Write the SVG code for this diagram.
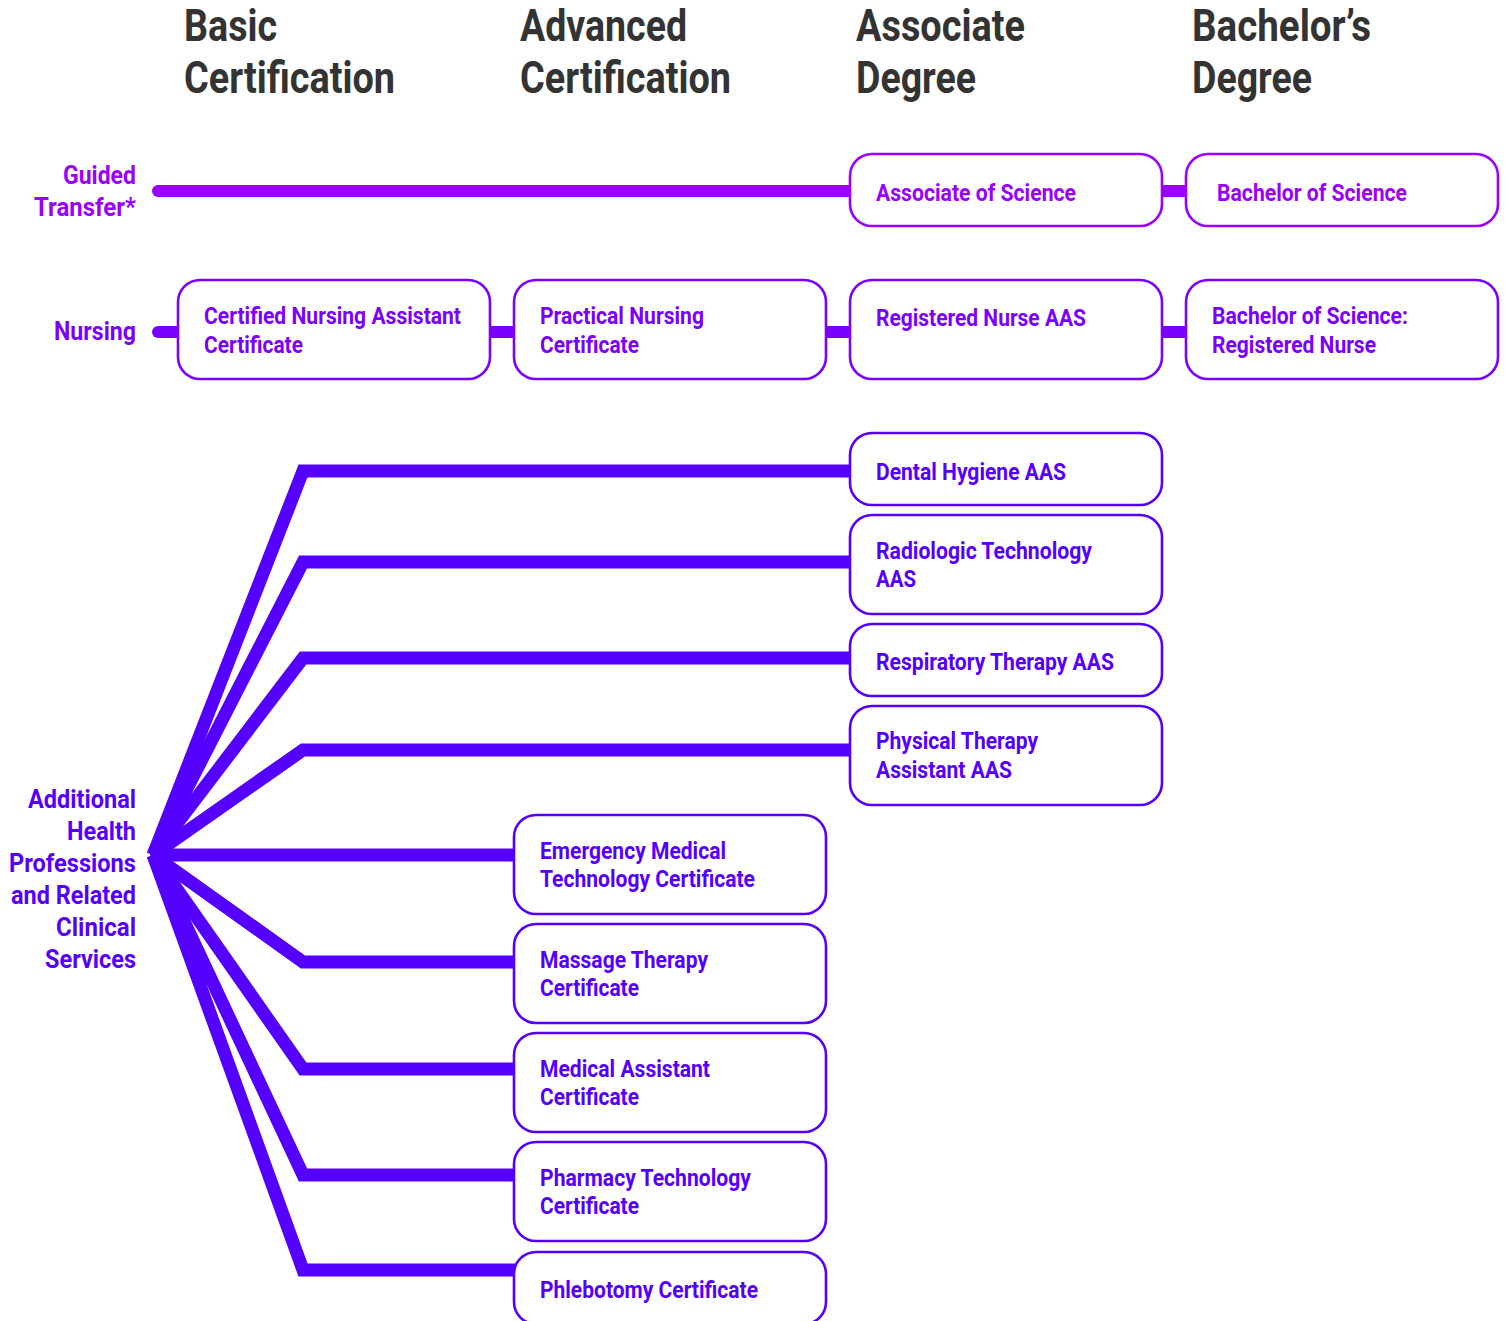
<svg xmlns="http://www.w3.org/2000/svg" width="1506" height="1321" viewBox="0 0 1506 1321">
<style>
text{font-family:Roboto,"Liberation Sans",sans-serif;font-weight:700}
.hd{font-size:44px;fill:#333333}
.lab{font-size:25px;text-anchor:end}
.bt{font-size:23px}
.g{fill:#9900ff}
.n{fill:#7a00ff}
.f{fill:#5500ff}
.box{fill:#ffffff;stroke-width:2.6}
.bg{stroke:#9900ff}
.bn{stroke:#7a00ff}
.bf{stroke:#5500ff}
.cg{stroke:#9900ff;stroke-width:12;fill:none}
.cn{stroke:#7a00ff;stroke-width:12;fill:none}
.cf{stroke:#5500ff;stroke-width:13;fill:none;stroke-linejoin:miter}
</style>
<g id="headers">
<text class="hd" x="184" y="41" textLength="93" lengthAdjust="spacingAndGlyphs">Basic</text>
<text class="hd" x="184" y="93" textLength="211" lengthAdjust="spacingAndGlyphs">Certification</text>
<text class="hd" x="520" y="41" textLength="167" lengthAdjust="spacingAndGlyphs">Advanced</text>
<text class="hd" x="520" y="93" textLength="211" lengthAdjust="spacingAndGlyphs">Certification</text>
<text class="hd" x="856" y="41" textLength="169" lengthAdjust="spacingAndGlyphs">Associate</text>
<text class="hd" x="856" y="93" textLength="120" lengthAdjust="spacingAndGlyphs">Degree</text>
<text class="hd" x="1192" y="41" textLength="179" lengthAdjust="spacingAndGlyphs">Bachelor’s</text>
<text class="hd" x="1192" y="93" textLength="120" lengthAdjust="spacingAndGlyphs">Degree</text>
</g>
<g id="row-labels">
<text class="lab g" x="136" y="184" textLength="73" lengthAdjust="spacingAndGlyphs">Guided</text>
<text class="lab g" x="136" y="216" textLength="102" lengthAdjust="spacingAndGlyphs">Transfer*</text>
<text class="lab n" x="136" y="340" textLength="82" lengthAdjust="spacingAndGlyphs">Nursing</text>
<text class="lab f" x="136" y="808" textLength="108" lengthAdjust="spacingAndGlyphs">Additional</text>
<text class="lab f" x="136" y="840" textLength="69" lengthAdjust="spacingAndGlyphs">Health</text>
<text class="lab f" x="136" y="872" textLength="127" lengthAdjust="spacingAndGlyphs">Professions</text>
<text class="lab f" x="136" y="904" textLength="125" lengthAdjust="spacingAndGlyphs">and Related</text>
<text class="lab f" x="136" y="936" textLength="80" lengthAdjust="spacingAndGlyphs">Clinical</text>
<text class="lab f" x="136" y="968" textLength="91" lengthAdjust="spacingAndGlyphs">Services</text>
</g>
<g id="connectors">
<path class="cg" d="M158 191 H852" stroke-linecap="round"/>
<path class="cg" d="M1160 191 H1188"/>
<path class="cn" d="M158 332 H180" stroke-linecap="round"/>
<path class="cn" d="M488 332 H516"/>
<path class="cn" d="M824 332 H852"/>
<path class="cn" d="M1160 332 H1188"/>
<path class="cf" d="M153 855 L303 471 H852"/>
<path class="cf" d="M153 855 L303 562 H852"/>
<path class="cf" d="M153 855 L303 658 H852"/>
<path class="cf" d="M153 855 L303 750 H852"/>
<path class="cf" d="M153 855 H516"/>
<path class="cf" d="M153 855 L303 962 H516"/>
<path class="cf" d="M153 855 L303 1069 H516"/>
<path class="cf" d="M153 855 L303 1175 H516"/>
<path class="cf" d="M153 855 L303 1270 H516"/>
<polygon points="150,855 157,836 172,848 172,862 157,874" fill="#5500ff"/>
</g>
<g id="associate-of-science">
<rect class="box bg" x="850" y="154" width="312" height="72" rx="22"/>
<text class="bt g" x="876" y="201" textLength="200" lengthAdjust="spacingAndGlyphs">Associate of Science</text>
</g>
<g id="bachelor-of-science">
<rect class="box bg" x="1186" y="154" width="312" height="72" rx="22"/>
<text class="bt g" x="1217" y="201" textLength="190" lengthAdjust="spacingAndGlyphs">Bachelor of Science</text>
</g>
<g id="cna">
<rect class="box bn" x="178" y="280" width="312" height="99" rx="22"/>
<text class="bt n" x="204" y="324" textLength="257" lengthAdjust="spacingAndGlyphs">Certified Nursing Assistant</text>
<text class="bt n" x="204" y="353" textLength="99" lengthAdjust="spacingAndGlyphs">Certificate</text>
</g>
<g id="practical-nursing">
<rect class="box bn" x="514" y="280" width="312" height="99" rx="22"/>
<text class="bt n" x="540" y="324" textLength="164" lengthAdjust="spacingAndGlyphs">Practical Nursing</text>
<text class="bt n" x="540" y="353" textLength="99" lengthAdjust="spacingAndGlyphs">Certificate</text>
</g>
<g id="registered-nurse-aas">
<rect class="box bn" x="850" y="280" width="312" height="99" rx="22"/>
<text class="bt n" x="876" y="326" textLength="210" lengthAdjust="spacingAndGlyphs">Registered Nurse AAS</text>
</g>
<g id="bs-registered-nurse">
<rect class="box bn" x="1186" y="280" width="312" height="99" rx="22"/>
<text class="bt n" x="1212" y="324" textLength="196" lengthAdjust="spacingAndGlyphs">Bachelor of Science:</text>
<text class="bt n" x="1212" y="353" textLength="164" lengthAdjust="spacingAndGlyphs">Registered Nurse</text>
</g>
<g id="dental-hygiene">
<rect class="box bf" x="850" y="433" width="312" height="72" rx="22"/>
<text class="bt f" x="876" y="480" textLength="190" lengthAdjust="spacingAndGlyphs">Dental Hygiene AAS</text>
</g>
<g id="radiologic-technology">
<rect class="box bf" x="850" y="515" width="312" height="99" rx="22"/>
<text class="bt f" x="876" y="559" textLength="216" lengthAdjust="spacingAndGlyphs">Radiologic Technology</text>
<text class="bt f" x="876" y="587" textLength="40" lengthAdjust="spacingAndGlyphs">AAS</text>
</g>
<g id="respiratory-therapy">
<rect class="box bf" x="850" y="624" width="312" height="72" rx="22"/>
<text class="bt f" x="876" y="670" textLength="238" lengthAdjust="spacingAndGlyphs">Respiratory Therapy AAS</text>
</g>
<g id="physical-therapy">
<rect class="box bf" x="850" y="706" width="312" height="99" rx="22"/>
<text class="bt f" x="876" y="749" textLength="162" lengthAdjust="spacingAndGlyphs">Physical Therapy</text>
<text class="bt f" x="876" y="778" textLength="136" lengthAdjust="spacingAndGlyphs">Assistant AAS</text>
</g>
<g id="emt">
<rect class="box bf" x="514" y="815" width="312" height="99" rx="22"/>
<text class="bt f" x="540" y="859" textLength="186" lengthAdjust="spacingAndGlyphs">Emergency Medical</text>
<text class="bt f" x="540" y="887" textLength="215" lengthAdjust="spacingAndGlyphs">Technology Certificate</text>
</g>
<g id="massage-therapy">
<rect class="box bf" x="514" y="924" width="312" height="99" rx="22"/>
<text class="bt f" x="540" y="968" textLength="168" lengthAdjust="spacingAndGlyphs">Massage Therapy</text>
<text class="bt f" x="540" y="996" textLength="99" lengthAdjust="spacingAndGlyphs">Certificate</text>
</g>
<g id="medical-assistant">
<rect class="box bf" x="514" y="1033" width="312" height="99" rx="22"/>
<text class="bt f" x="540" y="1077" textLength="170" lengthAdjust="spacingAndGlyphs">Medical Assistant</text>
<text class="bt f" x="540" y="1105" textLength="99" lengthAdjust="spacingAndGlyphs">Certificate</text>
</g>
<g id="pharmacy-technology">
<rect class="box bf" x="514" y="1142" width="312" height="99" rx="22"/>
<text class="bt f" x="540" y="1186" textLength="211" lengthAdjust="spacingAndGlyphs">Pharmacy Technology</text>
<text class="bt f" x="540" y="1214" textLength="99" lengthAdjust="spacingAndGlyphs">Certificate</text>
</g>
<g id="phlebotomy">
<rect class="box bf" x="514" y="1252" width="312" height="72" rx="22"/>
<text class="bt f" x="540" y="1298" textLength="218" lengthAdjust="spacingAndGlyphs">Phlebotomy Certificate</text>
</g>
</svg>
